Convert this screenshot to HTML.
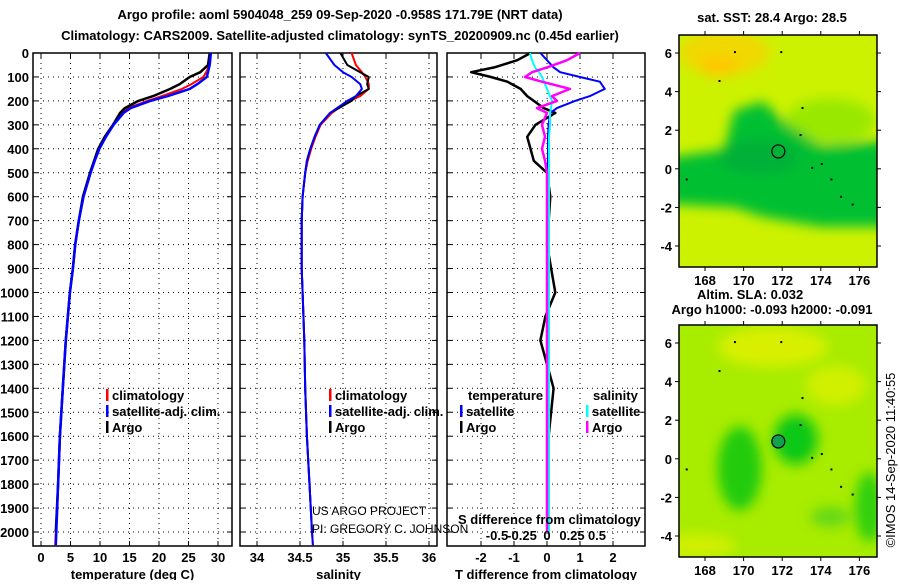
<!DOCTYPE html>
<html><head><meta charset="utf-8"><style>
body{margin:0;background:#fff;}
svg text{font-family:"Liberation Sans",sans-serif;}
.b{font-weight:bold;font-size:13px;}
</style></head><body>
<svg id="s" width="900" height="580" xmlns="http://www.w3.org/2000/svg">
<defs>
<filter id="bl" x="-20%" y="-20%" width="140%" height="140%"><feGaussianBlur stdDeviation="6"/></filter>
<clipPath id="c1"><rect x="679" y="35" width="198" height="232"/></clipPath>
<clipPath id="c2"><rect x="679" y="325" width="198" height="232"/></clipPath>
</defs>
<text x="340" y="19" text-anchor="middle" class="b" font-size="14">Argo profile: aoml 5904048_259 09-Sep-2020 -0.958S 171.79E (NRT data)</text>
<text x="340" y="40" text-anchor="middle" class="b" font-size="14">Climatology: CARS2009. Satellite-adjusted climatology: synTS_20200909.nc (0.45d earlier)</text>
<g id="g"></g>
</svg>
<script>
const depthTicks=[0,100,200,300,400,500,600,700,800,900,1000,1100,1200,1300,1400,1500,1600,1700,1800,1900,2000];
const tTicks=[0,5,10,15,20,25,30];
const sTicks=[34,34.5,35,35.5,36];
const dTicks=[-2,-1,0,1,2];
const sdTicks=[-0.5,-0.25,0,0.25,0.5];
const argoDepth=[0,50,80,100,130,150,180,200,230,250,300,350,400,450,500,600,700,800,900,1000,1200,1400,1600,1800,2000];
const argoTemp=[28.6,28.3,27,25.2,23.5,21.9,19,16.5,14.2,13.4,12.2,10.8,9.7,9.0,8.3,7.1,6.4,5.8,5.4,4.9,4.2,3.7,3.2,2.9,2.5];
const climDepth=[0,50,80,100,130,150,180,200,230,250,300,350,400,450,500,600,700,800,900,1000,1200,1400,1600,1800,2000,2055];
const climTemp=[28.7,28.5,28.0,27.5,25.5,23.9,20.5,18,14.8,13.8,12.3,11.0,9.9,9.1,8.4,7.2,6.4,5.8,5.4,4.9,4.2,3.7,3.2,2.9,2.5,2.4];
const satTemp=[28.8,28.6,28.3,28.1,26.5,25.2,21.5,18.5,15.2,14.0,12.3,11.0,9.9,9.1,8.4,7.2,6.4,5.8,5.4,4.9,4.2,3.7,3.2,2.9,2.6,2.5];
const argoSal=[34.97,35.05,35.2,35.3,35.28,35.3,35.15,35.1,34.95,34.85,34.73,34.67,34.62,34.58,34.56,34.53,34.52,34.52,34.52,34.53,34.55,34.56,34.58,34.61,34.64];
const climSal=[35.1,35.15,35.22,35.26,35.3,35.3,35.2,35.08,34.95,34.87,34.74,34.68,34.63,34.59,34.56,34.53,34.52,34.52,34.52,34.53,34.55,34.56,34.58,34.61,34.64,34.65];
const satSal=[34.8,34.9,35.0,35.1,35.2,35.22,35.15,35.05,34.93,34.85,34.73,34.67,34.62,34.58,34.56,34.53,34.52,34.52,34.52,34.53,34.55,34.56,34.58,34.61,34.64,34.65];
const diffDepth=[0,30,60,80,100,120,150,180,200,230,250,300,350,400,450,500,600,800,1000,1100,1200,1400,1600,1800,2000];
const argoTdiff=[-0.5,-0.9,-1.6,-2.3,-1.7,-1.2,-0.8,-0.6,-0.4,-0.1,0.25,-0.35,-0.6,-0.5,-0.4,0,0.1,0,0.25,-0.05,-0.2,0.2,0.05,0.05,0.05];
const satTdiff=[-0.2,0.0,0.2,0.4,1.0,1.6,1.75,1.3,0.85,0.3,0.1,0.05,0.03,0.03,0.03,0.03,0.02,0.02,0.02,0.02,0.02,0.02,0.02,0.02,0.02];
const argoSdiff=[0.33,0.2,0.0,-0.15,-0.22,-0.05,0.23,0.05,0.1,-0.1,0.0,-0.05,-0.02,-0.05,-0.02,0.0,0.0,0.0,0.0,0.0,0.0,0.0,0.0,0.0,0.0];
const satSdiff=[-0.17,-0.15,-0.12,-0.08,-0.05,-0.03,0.0,0.03,0.05,0.04,0.03,0.03,0.02,0.02,0.02,0.02,0.02,0.02,0.02,0.02,0.02,0.02,0.02,0.02,0.02];
const lonTicks=[168,170,172,174,176];
const latTicks=[6,4,2,0,-2,-4];
const floatLon=171.8, floatLat=0.9;

const NS='http://www.w3.org/2000/svg';
const G=document.getElementById('g');
function el(t,a,p){const e=document.createElementNS(NS,t);for(const k in a)e.setAttribute(k,a[k]);(p||G).appendChild(e);return e;}
function txt(x,y,s,a){const e=el('text',Object.assign({x:x,y:y,'class':'b'},a||{}));e.textContent=s;return e;}
const yD=d=>53+d*0.2395;
const PB=546;
const panels=[
 {x0:33,x1:232,name:'temperature',fx:v=>41+v*5.9,ticks:tTicks,lab:'temperature (deg C)'},
 {x0:240,x1:437,name:'salinity',fx:v=>257+(v-34)*86,ticks:sTicks,lab:'salinity'},
 {x0:447,x1:645,name:'difference',fx:v=>547+v*33,ticks:dTicks,lab:'T difference from climatology'}
];
panels.forEach((p,i)=>{
 const g=el('g',{});
 
 
 depthTicks.forEach(d=>{el('line',{x1:p.x0,x2:p.x1,y1:yD(d),y2:yD(d),stroke:'#000','stroke-dasharray':'1,4'},g);
   el('line',{x1:p.x0,x2:p.x0+5,y1:yD(d),y2:yD(d),stroke:'#000'},g);el('line',{x1:p.x1-5,x2:p.x1,y1:yD(d),y2:yD(d),stroke:'#000'},g);});
 p.ticks.forEach(v=>{const x=p.fx(v);el('line',{x1:x,x2:x,y1:53,y2:PB,stroke:'#000','stroke-dasharray':'1,4'},g);
   el('line',{x1:x,x2:x,y1:PB-5,y2:PB,stroke:'#000'},g);el('line',{x1:x,x2:x,y1:53,y2:58,stroke:'#000'},g);
   const t=txt(x,562,String(v),{'text-anchor':'middle'});});
 el('rect',{x:p.x0,y:53,width:p.x1-p.x0,height:PB-53,fill:'none',stroke:'#000','stroke-width':1.5},g);
 const xl=txt((p.x0+p.x1)/2,579,p.lab,{'text-anchor':'middle'});
 
 
});
depthTicks.forEach(d=>{const t=txt(29,yD(d)+5,String(d),{'text-anchor':'end'});
 
 });
function line(ds,vs,fx,col,w,name){const pts=ds.map((d,i)=>fx(vs[i]).toFixed(1)+','+yD(d).toFixed(1)).join(' ');
 const e=el('polyline',{points:pts,fill:'none',stroke:col,'stroke-width':w,'stroke-linejoin':'round'});
 
 }
const P=panels;
line(climDepth,climTemp,P[0].fx,'#f00',2,'temp-climatology-line');
line(argoDepth,argoTemp,P[0].fx,'#000',2.5,'temp-argo-line');
line(climDepth,satTemp,P[0].fx,'#00f',2.5,'temp-satellite-line');
line(climDepth,climSal,P[1].fx,'#f00',2,'sal-climatology-line');
line(argoDepth,argoSal,P[1].fx,'#000',2,'sal-argo-line');
line(climDepth,satSal,P[1].fx,'#00f',2,'sal-satellite-line');
const fs=v=>547+v*100;
line(diffDepth,argoTdiff,P[2].fx,'#000',2.5,'tdiff-argo-line');
line(diffDepth,satTdiff,P[2].fx,'#00f',2,'tdiff-satellite-line');
line(diffDepth,satSdiff,fs,'#0ff',2,'sdiff-satellite-line');
line(diffDepth,argoSdiff,fs,'#f0f',2.5,'sdiff-argo-line');
sdTicks.forEach(v=>{const t=txt(fs(v),540,String(v),{'text-anchor':'middle','font-size':12});
 
 });
txt(458,524,'S difference from climatology',{});
function leg(x,y,col,s,name){el('rect',{x:x,y:y-11,width:2.5,height:12,fill:col});const t=txt(x+6,y,s,{'font-size':12});
 
 }
leg(106,400,'#f00','climatology','legend-climatology');
leg(106,416,'#00f','satellite-adj. clim.','legend-satellite');
leg(106,432,'#000','Argo','legend-argo');
leg(329,400,'#f00','climatology','legend-sal-climatology');
leg(329,416,'#00f','satellite-adj. clim.','legend-sal-satellite');
leg(329,432,'#000','Argo','legend-sal-argo');
txt(468,400,'temperature',{'font-size':12});
leg(460,416,'#00f','satellite','legend-t-satellite');
leg(460,432,'#000','Argo','legend-t-argo');
txt(593,400,'salinity',{'font-size':12});
leg(586,416,'#0ff','satellite','legend-s-satellite');
leg(586,432,'#f0f','Argo','legend-s-argo');
txt(312,515,'US ARGO PROJECT',{'class':'','font-size':12});
txt(312,533,'PI: GREGORY C. JOHNSON',{'class':'','font-size':12});
const mlx=v=>705+(v-168)*19.3;
function map(y0,latY,clip,top,name){
 const g=el('g',{'clip-path':'url(#'+clip+')'});
 
 
 if(top){
  el('rect',{x:679,y:y0,width:198,height:232,fill:'#ccf200'},g);
  const f=el('g',{filter:'url(#bl)'},g);
  el('ellipse',{cx:mlx(169),cy:latY(6),rx:45,ry:22,fill:'#f0d800'},f);
  el('ellipse',{cx:mlx(168.7),cy:latY(5.3),rx:20,ry:10,fill:'#ffc800'},f);
  el('ellipse',{cx:mlx(174.5),cy:latY(2.5),rx:45,ry:22,fill:'#99e800'},f);
  el('path',{d:`M660 ${latY(-1.8)} L${mlx(169.5)} ${latY(-2)} L${mlx(171)} ${latY(-2.5)} L${mlx(174)} ${latY(-3)} L900 ${latY(-3)} L900 ${latY(1.5)} L${mlx(174)} ${latY(1.2)} L${mlx(172)} ${latY(2.5)} L${mlx(171)} ${latY(3.5)} L${mlx(169.5)} ${latY(3)} L${mlx(169)} ${latY(1)} L660 ${latY(0.5)}Z`,fill:'#00c030'},f);
  el('ellipse',{cx:mlx(170.8),cy:latY(0.6),rx:40,ry:18,fill:'#00b038'},f);
 } else {
  el('rect',{x:679,y:y0,width:198,height:232,fill:'#a8ec00'},g);
  const f=el('g',{filter:'url(#bl)'},g);
  el('ellipse',{cx:mlx(171.5),cy:latY(5.8),rx:55,ry:20,fill:'#d8f000'},f);
  el('ellipse',{cx:mlx(174.8),cy:latY(3.8),rx:30,ry:20,fill:'#d0f000'},f);
  el('ellipse',{cx:mlx(169.8),cy:latY(-0.5),rx:22,ry:42,fill:'#22cc10'},f);
  el('ellipse',{cx:mlx(172.7),cy:latY(1),rx:22,ry:25,fill:'#10c818'},f);
  el('ellipse',{cx:mlx(176.5),cy:latY(-2.5),rx:14,ry:35,fill:'#30d010'},f);
  el('ellipse',{cx:mlx(174.5),cy:latY(-3),rx:20,ry:10,fill:'#66d818'},f);
  el('ellipse',{cx:mlx(167.5),cy:latY(-4.5),rx:40,ry:12,fill:'#d0f000'},f);
 }
 el('rect',{x:679,y:y0,width:198,height:232,fill:'none',stroke:'#000','stroke-width':1.5});
 lonTicks.forEach(v=>{el('line',{x1:mlx(v),x2:mlx(v),y1:y0,y2:y0-4,stroke:'#000'});el('line',{x1:mlx(v),x2:mlx(v),y1:y0+232,y2:y0+236,stroke:'#000'});
  const t=txt(mlx(v),y0+250,String(v),{'text-anchor':'middle','font-size':14});
  
  });
 latTicks.forEach(v=>{el('line',{x1:675,x2:679,y1:latY(v),y2:latY(v),stroke:'#000'});el('line',{x1:877,x2:881,y1:latY(v),y2:latY(v),stroke:'#000'});
  const t=txt(672,latY(v)+5,String(v),{'text-anchor':'end','font-size':14});
  
  });
 const c=el('circle',{cx:mlx(floatLon),cy:latY(floatLat),r:6.5,fill:top?'none':'#10a050',stroke:'#000','stroke-width':1.2});
 
 
 [[172.9,1.8],[173,3.2],[174,0.3],[173.5,0.1],[174.5,-0.5],[175,-1.4],[175.6,-1.8],[169.5,6.1],[171.9,6.1],[168.7,4.6],[167,-0.5]].forEach(q=>el('rect',{x:mlx(q[0]),y:latY(q[1]),width:2,height:2,fill:'#000'}));
}
map(35,v=>53+(6-v)*19.3,'c1',true,'sst-map');
map(325,v=>343+(6-v)*19.3,'c2',false,'sla-map');
txt(772,22,'sat. SST: 28.4 Argo: 28.5',{'text-anchor':'middle','font-size':13});
txt(697,299,'Altim. SLA: 0.032',{'font-size':13});
txt(772,314,'Argo h1000: -0.093 h2000: -0.091',{'text-anchor':'middle','font-size':13});
const cp=txt(0,0,'©IMOS 14-Sep-2020 11:40:55',{'class':'','font-size':13,'text-anchor':'middle',transform:'translate(895,460) rotate(-90)'});


</script>
</body></html>
